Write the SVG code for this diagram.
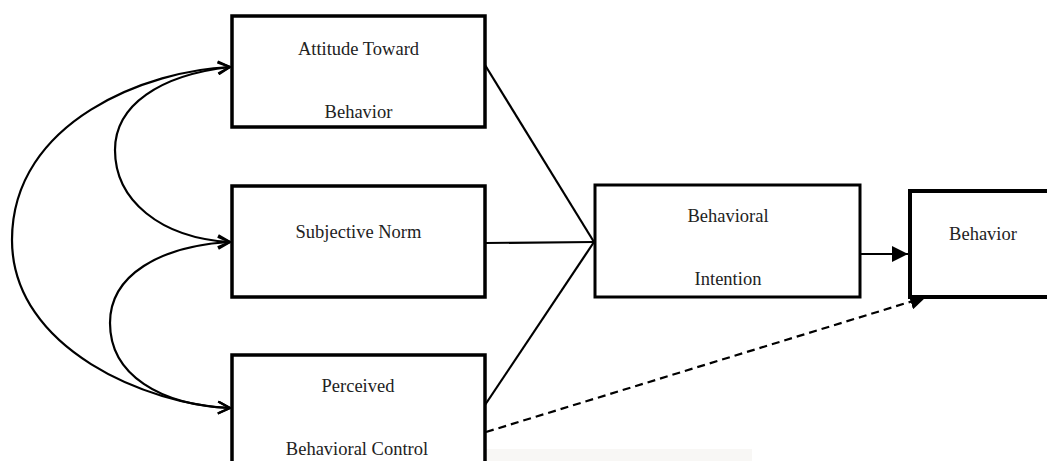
<svg xmlns="http://www.w3.org/2000/svg" width="1047" height="461" viewBox="0 0 1047 461">
<defs>
<style>
.box{fill:#fff;stroke:#000;stroke-width:3}
.lbl{font-family:"Liberation Serif","Times New Roman",serif;font-size:18.5px;fill:#222;text-anchor:middle}
.ln{fill:none;stroke:#000;stroke-width:2.2}
</style>
<marker id="open" viewBox="0 0 14 14" refX="13" refY="7" markerWidth="14" markerHeight="14" markerUnits="userSpaceOnUse" orient="auto-start-reverse">
<path d="M1,1 L13,7 L1,13" fill="none" stroke="#000" stroke-width="2.2"/>
</marker>
<marker id="solid" viewBox="0 0 16 16" refX="16" refY="8" markerWidth="16" markerHeight="16" markerUnits="userSpaceOnUse" orient="auto">
<path d="M0,0 L16,8 L0,16 Z" fill="#000"/>
</marker>
</defs>
<rect width="1047" height="461" fill="#fff"/>
<rect x="232" y="449" width="520" height="12" fill="#f8f7f5"/>
<g id="connectors">
<path class="ln" d="M230,67 C150,70 12,120 12,240 C12,350 150,405 230,408" marker-start="url(#open)" marker-end="url(#open)"/>
<path class="ln" d="M230,67 C160,75 115,105 115,150 C115,200 160,238 230,242" marker-start="url(#open)" marker-end="url(#open)"/>
<path class="ln" d="M230,242 C160,246 110,275 110,323 C110,375 160,405 230,408" marker-start="url(#open)" marker-end="url(#open)"/>
<line class="ln" x1="485" y1="65" x2="594" y2="242"/>
<line class="ln" x1="485" y1="243" x2="594" y2="242"/>
<line class="ln" x1="485" y1="405" x2="594" y2="242"/>
<line class="ln" x1="860" y1="254" x2="908" y2="254" marker-end="url(#solid)"/>
<line class="ln" x1="486" y1="432" x2="926" y2="297" stroke-dasharray="8,5" marker-end="url(#solid)"/>
</g>
<g id="attitude">
<rect class="box" x="232" y="16" width="253" height="111" style="stroke-width:3.5"/>
<text class="lbl" x="358.5" y="55">Attitude Toward</text>
<text class="lbl" x="358.5" y="118">Behavior</text>
</g>
<g id="subjective">
<rect class="box" x="232" y="186" width="253" height="111" style="stroke-width:3.5"/>
<text class="lbl" x="358.5" y="238">Subjective Norm</text>
</g>
<g id="perceived">
<rect class="box" x="232" y="355" width="253" height="120" style="stroke-width:3.5"/>
<text class="lbl" x="358" y="392">Perceived</text>
<text class="lbl" x="357" y="455">Behavioral Control</text>
</g>
<g id="intention">
<rect class="box" x="595" y="185" width="265" height="112" style="stroke-width:3"/>
<text class="lbl" x="728" y="222">Behavioral</text>
<text class="lbl" x="728" y="285">Intention</text>
</g>
<g id="behavior">
<rect class="box" x="910" y="191" width="150" height="106" style="stroke-width:4"/>
<text class="lbl" x="983" y="240">Behavior</text>
</g>
</svg>
